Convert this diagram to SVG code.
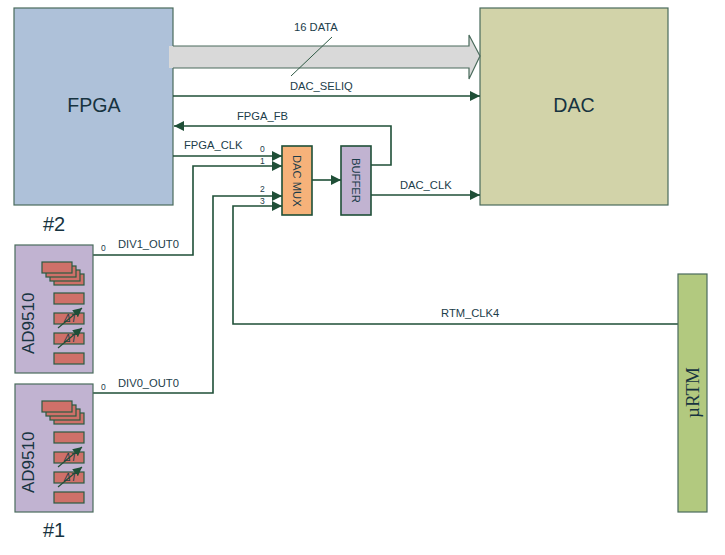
<svg xmlns="http://www.w3.org/2000/svg" width="725" height="555" viewBox="0 0 725 555">
<style>
text{font-family:"Liberation Sans",Arial,sans-serif;fill:#1c3d4a}
.s{font-size:11.2px}.t{font-size:8.5px}.b{font-size:19.6px;fill:#173340}
.w{stroke:#1f4f37;stroke-width:1.6;fill:none}
.box{stroke:#4a6b5c;stroke-width:1.2}
.r{fill:#cf7069;stroke:#2b5a40;stroke-width:1.2}
.d{font-size:10px;font-style:italic;fill:#1c3d4a}
</style>
<defs>
<marker id="a" markerUnits="userSpaceOnUse" markerWidth="11" markerHeight="11" refX="10" refY="5" orient="auto"><path d="M0 0L10 5L0 10z" fill="#1f4f37"/></marker>
<marker id="h" markerUnits="userSpaceOnUse" markerWidth="10" markerHeight="10" refX="9" refY="4.5" orient="auto"><path d="M0 0L9 4.5L0 9z" fill="#1f4f37"/></marker>
<g id="ad">
<rect class="box" x="15" y="245" width="78" height="128" fill="#c1b3d1"/>
<rect class="r" x="54" y="274" width="30" height="11"/>
<rect class="r" x="50" y="270" width="30" height="11"/>
<rect class="r" x="46" y="266" width="30" height="11"/>
<rect class="r" x="42" y="262" width="30" height="11"/>
<rect class="r" x="54" y="293" width="30" height="11"/>
<rect class="r" x="54" y="313" width="30" height="11"/>
<rect class="r" x="54" y="333" width="30" height="11"/>
<rect class="r" x="54" y="353" width="30" height="11"/>
<text class="d" x="64" y="322">ΔT</text>
<text class="d" x="64" y="342">ΔT</text>
<path d="M58 328L82 308" stroke="#1f4f37" stroke-width="1.2" marker-end="url(#h)" fill="none"/>
<path d="M58 348L82 328" stroke="#1f4f37" stroke-width="1.2" marker-end="url(#h)" fill="none"/>
<text transform="translate(34 354) rotate(-90)" font-size="17" style="fill:#173340">AD9510</text>
</g>
</defs>
<g id="fpga"><rect class="box" x="14" y="8" width="159" height="197" fill="#aec1d9"/><text class="b" x="94" y="112" text-anchor="middle">FPGA</text></g>
<g id="dac"><rect class="box" x="480" y="8" width="188" height="197" fill="#d2d3a9"/><text class="b" x="574" y="112" text-anchor="middle">DAC</text></g>
<g id="bus">
<path d="M169 46H469V35L480 56L469 79V68H169z" fill="#d9d9d9"/>
<path d="M173 46H469V35L480 56L469 79V68H173" fill="none" stroke="#4a6b5c" stroke-width="1.2"/>
</g>
<g id="connectors">
<path d="M291 76L332 37" stroke="#2f5a45" stroke-width="1" fill="none"/>
<path class="w" d="M173 96H480" marker-end="url(#a)"/>
<path class="w" d="M371 165H391V126H174" marker-end="url(#a)"/>
<path class="w" d="M173 156H282" marker-end="url(#a)"/>
<path class="w" d="M93 255H193V166H282" marker-end="url(#a)"/>
<path class="w" d="M93 393H213V196H282" marker-end="url(#a)"/>
<path class="w" d="M678 324H233V206H282" marker-end="url(#a)"/>
<path class="w" d="M312 180H341" marker-end="url(#a)"/>
<path class="w" d="M371 195H480" marker-end="url(#a)"/>
</g>
<g id="mux"><rect x="282" y="146" width="30" height="69" fill="#f6b27a" stroke="#1f4f37" stroke-width="1.6"/><text class="s" transform="translate(293 155) rotate(90)">DAC MUX</text></g>
<g id="buffer"><rect x="341" y="146" width="30" height="69" fill="#c1b3d1" stroke="#1f4f37" stroke-width="1.6"/><text class="s" transform="translate(352 158) rotate(90)">BUFFER</text></g>
<g id="ad1"><use href="#ad"/></g>
<g id="ad0"><use href="#ad" y="139"/></g>
<g id="urtm"><rect class="box" x="678" y="274" width="29" height="238" fill="#b2c97f"/><text transform="translate(699 418) rotate(-90)" font-size="19" style="font-family:'Liberation Serif',serif;fill:#173340">µRTM</text></g>
<g id="labels">
<text class="s" x="294" y="31">16 DATA</text>
<text class="s" x="290" y="90">DAC_SELIQ</text>
<text class="s" x="237" y="120">FPGA_FB</text>
<text class="s" x="184" y="149">FPGA_CLK</text>
<text class="s" x="400" y="189">DAC_CLK</text>
<text class="s" x="118" y="248">DIV1_OUT0</text>
<text class="s" x="118" y="387">DIV0_OUT0</text>
<text class="s" x="441" y="317">RTM_CLK4</text>
<text class="t" x="260" y="152">0</text>
<text class="t" x="260" y="164">1</text>
<text class="t" x="260" y="192">2</text>
<text class="t" x="260" y="204">3</text>
<text class="t" x="101" y="251">0</text>
<text class="t" x="101" y="390">0</text>
<text x="43" y="231" font-size="20" style="fill:#173340">#2</text>
<text x="43" y="537" font-size="20" style="fill:#173340">#1</text>
</g>
</svg>
